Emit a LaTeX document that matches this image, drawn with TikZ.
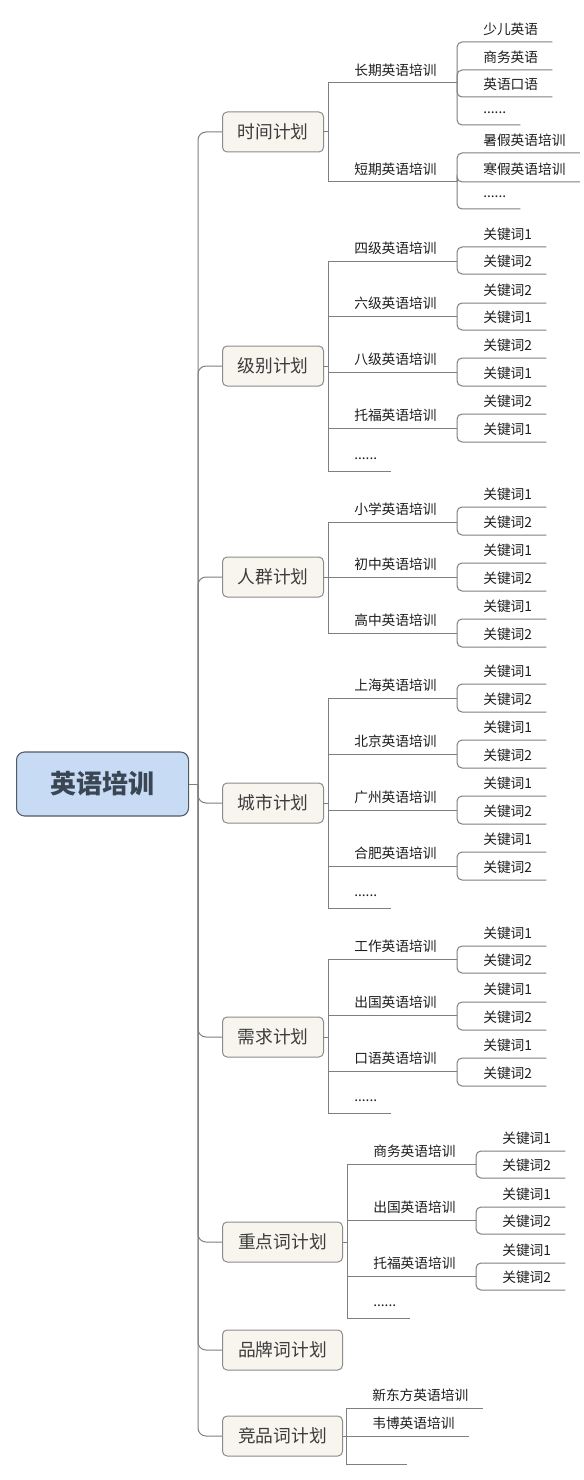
\documentclass[tikz,border=0pt]{standalone}
\usepackage{fontspec}
\setmainfont{Noto Sans CJK SC}
\usetikzlibrary{calc}
\definecolor{lnc}{HTML}{7F7F7F}
\definecolor{txt}{HTML}{1E1E1E}
\definecolor{ttxt}{HTML}{3C3C3C}
\definecolor{tbd}{HTML}{8C8C8C}
\definecolor{tfill}{HTML}{F7F5EE}
\definecolor{rfill}{HTML}{C7DBF4}
\definecolor{rbd}{HTML}{505B66}
\definecolor{rtxt}{HTML}{3B4654}
% name, parent joint, vertical x, line y, end x, text
\newcommand\branch[6]{%
  \node[lbl] (#1) at (#3+26,#4-12.5) {#6};
  \coordinate (#1-j) at (#5,#4);
  \draw[ln] (#2) |- (#1-j);
}
% [corner style] name, parent joint, vertical x, line y, text
\newcommand\twig[6][rounded corners=3.75pt]{%
  \node[lbl] (#2) at (#4+26,#5-12.5) {#6};
  \coordinate (#2-u) at (#4,#5);
  \draw[ln,#1] (#3) |- ($(#2.east |- #2-u)+(14,0)$);
}
\begin{document}
\begin{tikzpicture}[x=0.75pt,y=-0.75pt,
  ln/.style={draw=lnc,line width=0.75pt},
  lbl/.style={anchor=west,inner sep=0pt,font=\fontsize{10.3pt}{12pt}\selectfont,text=txt},
  topic/.style={anchor=west,draw=tbd,fill=tfill,rounded corners=3.5pt,line width=0.75pt,
    minimum width=75.75pt,minimum height=30pt,inner sep=0pt,
    font=\fontsize{13.3pt}{15pt}\selectfont,text=ttxt},
  widetopic/.style={topic,minimum width=90pt},
  rootbox/.style={anchor=west,draw=rbd,fill=rfill,rounded corners=6pt,line width=0.8pt,
    minimum width=129pt,minimum height=48pt,inner sep=0pt,
    font=\fontsize{19.5pt}{22pt}\selectfont\bfseries,text=rtxt}]
\fill[white] (0,0) rectangle (584,1480);
\useasboundingbox (0,0) rectangle (584,1480);

% root and trunk
\node[rootbox] (root) at (16,784) {英语培训};
\coordinate (trunk) at (198,784);
\draw[ln] (root.east) -- (trunk);

\node[topic] (t1) at (222,132) {时间计划};
\node[topic] (t2) at (222,366) {级别计划};
\node[topic] (t3) at (222,577) {人群计划};
\node[topic] (t4) at (222,803) {城市计划};
\node[topic] (t5) at (222,1037) {需求计划};
\node[widetopic] (t6) at (222,1242) {重点词计划};
\node[widetopic] (t7) at (222,1350) {品牌词计划};
\node[widetopic] (t8) at (222,1436) {竞品词计划};

\foreach \t in {t1,t2,t3,t4,t5,t6,t7,t8}
  \draw[ln,rounded corners=6pt] (trunk) |- (\t.west);

\coordinate (t1-j) at (328,132);
\coordinate (t2-j) at (328,366);
\coordinate (t3-j) at (328,577);
\coordinate (t4-j) at (328,803);
\coordinate (t5-j) at (328,1037);
\coordinate (t6-j) at (347,1242);
\coordinate (t8-j) at (346,1436);
\foreach \t in {t1,t2,t3,t4,t5,t6,t8}
  \draw[ln] (\t.east) -- (\t-j);

% 时间计划
\branch{a1}{t1-j}{328}{83}{457}{长期英语培训}
\twig{a11}{a1-j}{457}{42}{少儿英语}
\twig{a12}{a1-j}{457}{70}{商务英语}
\twig{a13}{a1-j}{457}{97}{英语口语}
\twig{a14}{a1-j}{457}{125}{......}
\branch{a2}{t1-j}{328}{182}{457}{短期英语培训}
\twig{a21}{a2-j}{457}{153}{暑假英语培训}
\twig{a22}{a2-j}{457}{182}{寒假英语培训}
\twig{a23}{a2-j}{457}{209}{......}

% 级别计划
\branch{b1}{t2-j}{328}{261}{457}{四级英语培训}
\twig{b11}{b1-j}{457}{247}{关键词1}
\twig{b12}{b1-j}{457}{274}{关键词2}
\branch{b2}{t2-j}{328}{316}{457}{六级英语培训}
\twig{b21}{b2-j}{457}{303}{关键词2}
\twig{b22}{b2-j}{457}{330}{关键词1}
\branch{b3}{t2-j}{328}{372}{457}{八级英语培训}
\twig{b31}{b3-j}{457}{358}{关键词2}
\twig{b32}{b3-j}{457}{386}{关键词1}
\branch{b4}{t2-j}{328}{428}{457}{托福英语培训}
\twig{b41}{b4-j}{457}{414}{关键词2}
\twig{b42}{b4-j}{457}{442}{关键词1}
\twig[sharp corners]{b5}{t2-j}{328}{471}{......}

% 人群计划
\branch{c1}{t3-j}{328}{522}{457}{小学英语培训}
\twig{c11}{c1-j}{457}{507}{关键词1}
\twig{c12}{c1-j}{457}{535}{关键词2}
\branch{c2}{t3-j}{328}{577}{457}{初中英语培训}
\twig{c21}{c2-j}{457}{563}{关键词1}
\twig{c22}{c2-j}{457}{591}{关键词2}
\branch{c3}{t3-j}{328}{633}{457}{高中英语培训}
\twig{c31}{c3-j}{457}{619}{关键词1}
\twig{c32}{c3-j}{457}{647}{关键词2}

% 城市计划
\branch{d1}{t4-j}{328}{698}{457}{上海英语培训}
\twig{d11}{d1-j}{457}{684}{关键词1}
\twig{d12}{d1-j}{457}{712}{关键词2}
\branch{d2}{t4-j}{328}{754}{457}{北京英语培训}
\twig{d21}{d2-j}{457}{740}{关键词1}
\twig{d22}{d2-j}{457}{768}{关键词2}
\branch{d3}{t4-j}{328}{810}{457}{广州英语培训}
\twig{d31}{d3-j}{457}{796}{关键词1}
\twig{d32}{d3-j}{457}{824}{关键词2}
\branch{d4}{t4-j}{328}{866}{457}{合肥英语培训}
\twig{d41}{d4-j}{457}{852}{关键词1}
\twig{d42}{d4-j}{457}{880}{关键词2}
\twig[sharp corners]{d5}{t4-j}{328}{908}{......}

% 需求计划
\branch{e1}{t5-j}{328}{959}{457}{工作英语培训}
\twig{e11}{e1-j}{457}{946}{关键词1}
\twig{e12}{e1-j}{457}{973}{关键词2}
\branch{e2}{t5-j}{328}{1015}{457}{出国英语培训}
\twig{e21}{e2-j}{457}{1002}{关键词1}
\twig{e22}{e2-j}{457}{1030}{关键词2}
\branch{e3}{t5-j}{328}{1071}{457}{口语英语培训}
\twig{e31}{e3-j}{457}{1058}{关键词1}
\twig{e32}{e3-j}{457}{1086}{关键词2}
\twig[sharp corners]{e4}{t5-j}{328}{1113}{......}

% 重点词计划
\branch{f1}{t6-j}{347}{1164}{476}{商务英语培训}
\twig{f11}{f1-j}{476}{1151}{关键词1}
\twig{f12}{f1-j}{476}{1178}{关键词2}
\branch{f2}{t6-j}{347}{1220}{476}{出国英语培训}
\twig{f21}{f2-j}{476}{1207}{关键词1}
\twig{f22}{f2-j}{476}{1234}{关键词2}
\branch{f3}{t6-j}{347}{1276}{476}{托福英语培训}
\twig{f31}{f3-j}{476}{1263}{关键词1}
\twig{f32}{f3-j}{476}{1290}{关键词2}
\twig[sharp corners]{f4}{t6-j}{347}{1318}{......}

% 竞品词计划
\twig[sharp corners]{g1}{t8-j}{346}{1408}{新东方英语培训}
\twig[sharp corners]{g2}{t8-j}{346}{1436}{韦博英语培训}
\coordinate (g3) at (407,1464);
\draw[ln] (t8-j) |- (g3);
\end{tikzpicture}
\end{document}
